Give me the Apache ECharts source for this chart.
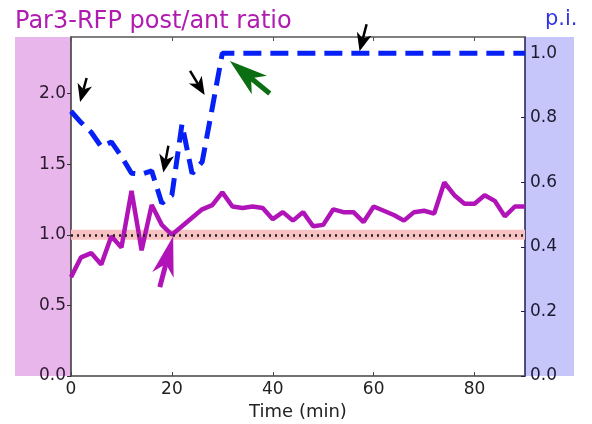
<!DOCTYPE html>
<html><head><meta charset="utf-8">
<script src="https://cdn.jsdelivr.net/npm/echarts@6/dist/echarts.min.js"></script>
<style>html,body{margin:0;padding:0;background:#fff}#c{width:592px;height:424px}</style>
</head><body><div id="c"></div>
<script>
// ---- data ----
const times = [0,2,4,6,8,10,12,14,16,18,20,22,24,26,28,30,32,34,36,38,40,42,44,46,48,50,52,54,56,58,60,62,64,66,68,70,72,74,76,78,80,82,84,86,88,90];
const ratio = [0.70,0.84,0.87,0.79,0.99,0.91,1.31,0.89,1.21,1.07,1.00,1.06,1.12,1.18,1.21,1.30,1.20,1.19,1.20,1.19,1.11,1.16,1.10,1.16,1.06,1.07,1.18,1.16,1.16,1.09,1.20,1.17,1.14,1.10,1.16,1.17,1.15,1.37,1.28,1.22,1.22,1.28,1.24,1.13,1.20,1.20];
const pi = [0.82,0.785,0.755,0.71,0.725,0.68,0.628,0.625,0.635,0.535,0.56,0.78,0.627,0.663,0.83,1.0,1.0,1.0,1.0,1.0,1.0,1.0,1.0,1.0,1.0,1.0,1.0,1.0,1.0,1.0,1.0,1.0,1.0,1.0,1.0,1.0,1.0,1.0,1.0,1.0,1.0,1.0,1.0,1.0,1.0,1.0];
const xTicks = [0,20,40,60,80];
const leftTicks = [0,0.5,1.0,1.5,2.0];
const rightTicks = [0,0.2,0.4,0.6,0.8,1.0];
const refValue = 1.0;
const refBand = [0.965, 1.035];
// arrows (time, left-axis value): tail -> tip
const arrowTails = [[3.1,2.11],[19.3,1.63],[23.6,2.16],[58.6,2.49],[39.4,2.00],[17.6,0.63]];
const arrowTips  = [[1.8,1.94],[18.3,1.44],[26.5,1.99],[57.2,2.30],[31.5,2.23],[20.25,0.99]];
const titleText = 'Par3-RFP post/ant ratio';
const rightTitle = 'p.i.';
const xName = 'Time (min)';

// ---- styles ----
const arrowStyles = [
  {color:'#000', width:2.5, len:18, half:7.5},
  {color:'#000', width:2.5, len:18, half:7.5},
  {color:'#000', width:2.5, len:18, half:7.5},
  {color:'#000', width:2.5, len:18, half:7.5},
  {color:'#0b6e12', width:5, len:38, half:12},
  {color:'#b014b8', width:5, len:40, half:11}
];

const chart = echarts.init(document.getElementById('c'), null, {renderer:'canvas'});
const font = 'DejaVu Sans';

function renderArrow(params, api) {
  const i = params.dataIndex;
  const s = arrowStyles[i];
  const p0 = api.coord([api.value(0), api.value(1)]);
  const p1 = api.coord([api.value(2), api.value(3)]);
  let dx = p1[0]-p0[0], dy = p1[1]-p0[1];
  const d = Math.sqrt(dx*dx+dy*dy) || 1;
  const ux = dx/d, uy = dy/d, nx = -uy, ny = ux;
  const bx = p1[0]-ux*s.len, by = p1[1]-uy*s.len;
  const notch = [p1[0]-ux*s.len*0.72, p1[1]-uy*s.len*0.72];
  return {type:'group', children:[
    {type:'line', shape:{x1:p0[0], y1:p0[1], x2:notch[0], y2:notch[1]},
     style:{stroke:s.color, lineWidth:s.width}},
    {type:'polygon', shape:{points:[p1, [bx+nx*s.half, by+ny*s.half], notch, [bx-nx*s.half, by-ny*s.half]]},
     style:{fill:s.color}}
  ]};
}

const yLabel = (color, ticks) => ({fontSize:17, color:color, margin:5, formatter: v => v.toFixed(1),
  fontFamily:font, customValues:ticks, verticalAlign:'middle',
  verticalAlignMinLabel:'middle', verticalAlignMaxLabel:'middle'});

chart.setOption({
  animation: false,
  backgroundColor: '#fff',
  textStyle: {fontFamily: font},
  grid: {left: 71, right: 67, top: 37, bottom: 48, containLabel:false, outerBoundsMode:'none'},
  graphic: [
    {type:'rect', z:-10, shape:{x:15, y:37, width:56, height:339}, style:{fill:'#e9b6ec'}},
    {type:'rect', z:-10, shape:{x:525, y:37, width:49, height:339}, style:{fill:'#c6c6fa'}},
    {type:'text', x:15, y:22, style:{text:titleText, fill:'#b01cb0', font:'24px "DejaVu Sans"', verticalAlign:'middle'}},
    {type:'text', x:545, y:20, style:{text:rightTitle, fill:'#3434e0', font:'21px "DejaVu Sans"', verticalAlign:'middle'}}
  ],
  xAxis: [
    {type:'value', min:0, max:90, position:'bottom',
     name: xName, nameLocation:'middle', nameGap:12,
     nameTextStyle:{fontSize:18, color:'#222', fontFamily:font},
     axisLine:{show:true, onZero:false, lineStyle:{color:'#444', width:1.5}},
     axisTick:{show:true, inside:true, length:4, lineStyle:{color:'#444'}, customValues:xTicks},
     axisLabel:{fontSize:17, color:'#222', margin:5, fontFamily:font, customValues:xTicks, align:'center', alignMinLabel:'center', alignMaxLabel:'center'},
     splitLine:{show:false}},
    {type:'value', min:0, max:90, position:'top',
     axisLine:{show:true, onZero:false, lineStyle:{color:'#555', width:1.5}},
     axisTick:{show:true, inside:true, length:4, lineStyle:{color:'#555'}, customValues:xTicks},
     axisLabel:{show:false}, splitLine:{show:false}}
  ],
  yAxis: [
    {type:'value', min:0, max:2.4, position:'left',
     axisLine:{show:true, onZero:false, lineStyle:{color:'#333', width:1.5}},
     axisTick:{show:true, inside:false, length:4, lineStyle:{color:'#333'}, customValues:leftTicks},
     axisLabel: yLabel('#2a1a2e', leftTicks),
     splitLine:{show:false}},
    {type:'value', min:0, max:1.05, position:'right',
     axisLine:{show:true, onZero:false, lineStyle:{color:'#1c1c50', width:1.5}},
     axisTick:{show:true, inside:true, length:4, lineStyle:{color:'#1c1c50'}, customValues:rightTicks},
     axisLabel: yLabel('#1a1a30', rightTicks),
     splitLine:{show:false}}
  ],
  series: [
    {type:'line', name:'band', xAxisIndex:0, yAxisIndex:0, data:[], silent:true,
     markArea:{silent:true, itemStyle:{color:'#f8c2c2'},
       data:[[{xAxis:0, yAxis:refBand[0]},{xAxis:90, yAxis:refBand[1]}]]},
     markLine:{silent:true, symbol:['none','none'], label:{show:false},
       lineStyle:{color:'#222', width:2.5, type:[2,4]},
       data:[{yAxis:refValue}]}},
    {type:'line', name:'ratio', xAxisIndex:0, yAxisIndex:0, showSymbol:false, symbol:'none',
     data: times.map((t,i)=>[t, ratio[i]]),
     lineStyle:{color:'#b014b8', width:4.5}, itemStyle:{color:'#b014b8'}, z:3},
    {type:'line', name:'pi', xAxisIndex:0, yAxisIndex:1, showSymbol:false, symbol:'none',
     data: times.map((t,i)=>[t, pi[i]]),
     lineStyle:{color:'#0620f5', width:5, type:[18,9]}, itemStyle:{color:'#0620f5'}, z:4},
    {type:'custom', name:'arrows', xAxisIndex:0, yAxisIndex:0, clip:false, z:6, silent:true,
     renderItem: renderArrow,
     encode:{x:[0,2], y:[1,3]},
     data: arrowTails.map((t,i)=>[t[0], t[1], arrowTips[i][0], arrowTips[i][1]])}
  ]
});
</script>
</body></html>
